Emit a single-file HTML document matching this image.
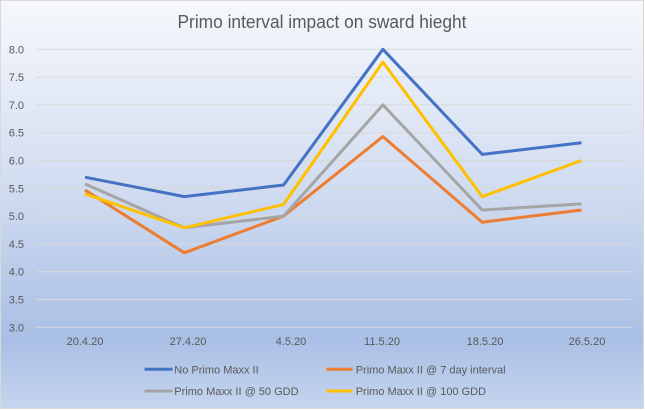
<!DOCTYPE html>
<html><head><meta charset="utf-8"><style>
html,body{margin:0;padding:0;background:#fff;}
svg{display:block;}
text{font-family:"Liberation Sans",sans-serif;fill:#595959;}
</style></head><body>
<svg width="645" height="410" viewBox="0 0 645 410" xmlns="http://www.w3.org/2000/svg">
<defs>
<linearGradient id="bg" x1="0" y1="0" x2="0" y2="1">
<stop offset="0" stop-color="#f6f8fc"/>
<stop offset="0.45" stop-color="#d2ddf1"/>
<stop offset="0.83" stop-color="#a9bfe5"/>
<stop offset="1" stop-color="#c6d5ef"/>
</linearGradient>
</defs>
<rect x="0.5" y="0.5" width="643" height="408" fill="url(#bg)" stroke="#d9d9d9" stroke-width="1"/>
<text x="322" y="28" font-size="18.5" text-anchor="middle" textLength="289" lengthAdjust="spacingAndGlyphs">Primo interval impact on sward hieght</text>
<g stroke="#d9d9d9" stroke-width="1">
<line x1="36" x2="631" y1="49.3" y2="49.3"/>
<line x1="36" x2="631" y1="77.1" y2="77.1"/>
<line x1="36" x2="631" y1="104.9" y2="104.9"/>
<line x1="36" x2="631" y1="132.7" y2="132.7"/>
<line x1="36" x2="631" y1="160.5" y2="160.5"/>
<line x1="36" x2="631" y1="188.3" y2="188.3"/>
<line x1="36" x2="631" y1="216.1" y2="216.1"/>
<line x1="36" x2="631" y1="243.9" y2="243.9"/>
<line x1="36" x2="631" y1="271.7" y2="271.7"/>
<line x1="36" x2="631" y1="299.5" y2="299.5"/>
<line x1="36" x2="631" y1="327.3" y2="327.3"/>
</g>
<g font-size="11" text-anchor="end">
<text x="24" y="53.3">8.0</text>
<text x="24" y="81.1">7.5</text>
<text x="24" y="108.9">7.0</text>
<text x="24" y="136.7">6.5</text>
<text x="24" y="164.5">6.0</text>
<text x="24" y="192.3">5.5</text>
<text x="24" y="220.1">5.0</text>
<text x="24" y="247.9">4.5</text>
<text x="24" y="275.7">4.0</text>
<text x="24" y="303.5">3.5</text>
<text x="24" y="331.3">3.0</text>
</g>
<g font-size="11" text-anchor="middle">
<text x="85" y="345">20.4.20</text>
<text x="188" y="345">27.4.20</text>
<text x="291" y="345">4.5.20</text>
<text x="382" y="345">11.5.20</text>
<text x="485" y="345">18.5.20</text>
<text x="587" y="345">26.5.20</text>
</g>
<g fill="none" stroke-width="3" stroke-linejoin="round" stroke-linecap="butt">
<polyline stroke="#4472c4" points="85,177.2 184.3,196.6 283.6,185 382.9,49.3 482.2,154.4 581.5,142.7"/>
<polyline stroke="#ed7d31" points="85,190 184.3,252.8 283.6,216.1 382.9,136.6 482.2,222.2 581.5,210"/>
<polyline stroke="#a5a5a5" points="85,183.9 184.3,227.8 283.6,216.1 382.9,104.9 482.2,210 581.5,203.9"/>
<polyline stroke="#ffc000" points="85,193.9 184.3,227.8 283.6,204.4 382.9,62.1 482.2,196.6 581.5,160.5"/>
</g>
<g stroke-width="3">
<line x1="144.5" x2="172.5" y1="369.3" y2="369.3" stroke="#4472c4"/>
<line x1="326.5" x2="352.5" y1="369.3" y2="369.3" stroke="#ed7d31"/>
<line x1="144.5" x2="172.5" y1="391" y2="391" stroke="#a5a5a5"/>
<line x1="326.5" x2="352.5" y1="391" y2="391" stroke="#ffc000"/>
</g>
<g font-size="11">
<text x="174.3" y="373.3">No Primo Maxx II</text>
<text x="355.7" y="373.3">Primo Maxx II @ 7 day interval</text>
<text x="174.3" y="395">Primo Maxx II @ 50 GDD</text>
<text x="355.7" y="395">Primo Maxx II @ 100 GDD</text>
</g>
</svg>
</body></html>
